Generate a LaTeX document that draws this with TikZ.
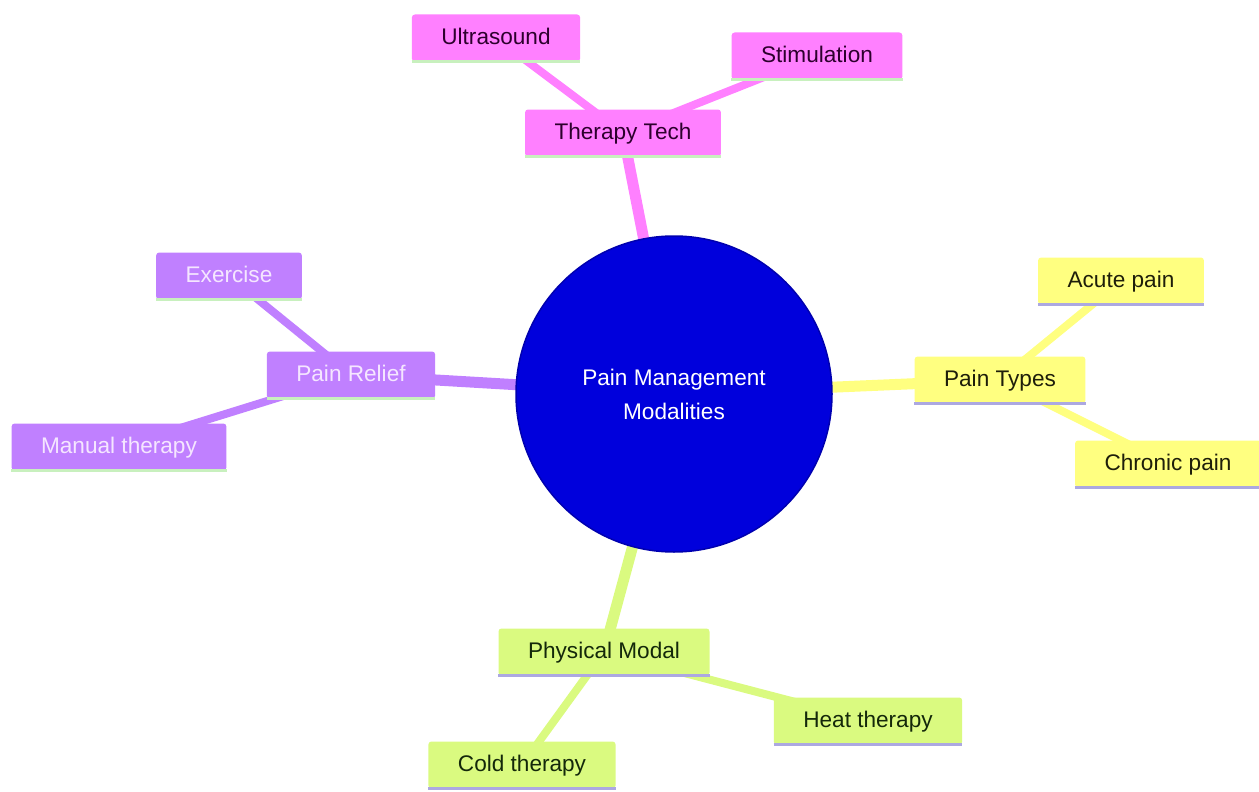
\documentclass[tikz,border=0pt]{standalone}
\usepackage{fontspec}
\setmainfont{Liberation Sans}
\usetikzlibrary{backgrounds}

\definecolor{rootblue}{RGB}{0,0,220}
\definecolor{techpink}{RGB}{255,128,255}
\definecolor{reliefpurple}{RGB}{192,128,255}
\definecolor{typesyellow}{RGB}{255,255,128}
\definecolor{modalgreen}{RGB}{218,250,128}
\definecolor{underGreen}{RGB}{200,240,190}
\definecolor{underLav}{RGB}{172,168,225}

\tikzset{
  mapnode/.style={rounded corners=3pt, minimum height=47pt, inner xsep=29.5pt,
    text height=17pt, text depth=4pt, font=\fontsize{22.6}{26}\selectfont},
  underline/.style={append after command={(\tikzlastnode.south west)
    edge[draw=#1, line width=3pt] (\tikzlastnode.south east)}},
  technode/.style={mapnode, fill=techpink, text={rgb,255:red,45;green,0;blue,45}, underline=underGreen},
  reliefnode/.style={mapnode, fill=reliefpurple, text={rgb,255:red,245;green,230;blue,255}, underline=underGreen},
  typesnode/.style={mapnode, fill=typesyellow, text={rgb,255:red,30;green,30;blue,10}, underline=underLav},
  modalnode/.style={mapnode, fill=modalgreen, text={rgb,255:red,20;green,40;blue,10}, underline=underLav},
  mainedge/.style={line width=11pt},
  subedge/.style={line width=8pt}
}

\begin{document}
\begin{tikzpicture}[x=1pt, y=-1pt]
\useasboundingbox (0,0) rectangle (1259,792);

% root
\node (root) [circle, minimum size=316pt, fill=rootblue, draw={rgb,255:red,0;green,0;blue,175}, line width=1.5pt,
  text=white, align=center, font=\fontsize{22.6}{34}\selectfont] at (674,394) {Pain Management\\Modalities};

% therapy tech
\node (tech) [technode] at (623,133) {Therapy Tech};
\node (ultra) [technode] at (496,38) {Ultrasound};
\node (stim) [technode] at (817,56) {Stimulation};

% pain relief
\node (relief) [reliefnode] at (351,375) {Pain Relief};
\node (exer) [reliefnode] at (229,276) {Exercise};
\node (manual) [reliefnode] at (119,447) {Manual therapy};

% pain types
\node (types) [typesnode] at (1000,380) {Pain Types};
\node (acute) [typesnode] at (1121,281) {Acute pain};
\node (chronic) [typesnode] at (1168,464) {Chronic pain};

% physical modal
\node (modal) [modalnode] at (604,652) {Physical Modal};
\node (heat) [modalnode] at (868,721) {Heat therapy};
\node (cold) [modalnode] at (522,765) {Cold therapy};

\begin{scope}[on background layer]
\draw [mainedge, techpink] (root.center) -- (tech.center);
\draw [subedge, techpink] (tech.center) -- (ultra.center);
\draw [subedge, techpink] (tech.center) -- (stim.center);

\draw [mainedge, reliefpurple] (root.center) -- (relief.center);
\draw [subedge, reliefpurple] (relief.center) -- (exer.center);
\draw [subedge, reliefpurple] (relief.center) -- (manual.center);

\draw [mainedge, typesyellow] (root.center) -- (types.center);
\draw [subedge, typesyellow] (types.center) -- (acute.center);
\draw [subedge, typesyellow] (types.center) -- (chronic.center);

\draw [mainedge, modalgreen] (root.center) -- (modal.center);
\draw [subedge, modalgreen] (modal.center) -- (heat.center);
\draw [subedge, modalgreen] (modal.center) -- (cold.center);
\end{scope}
\end{tikzpicture}
\end{document}
